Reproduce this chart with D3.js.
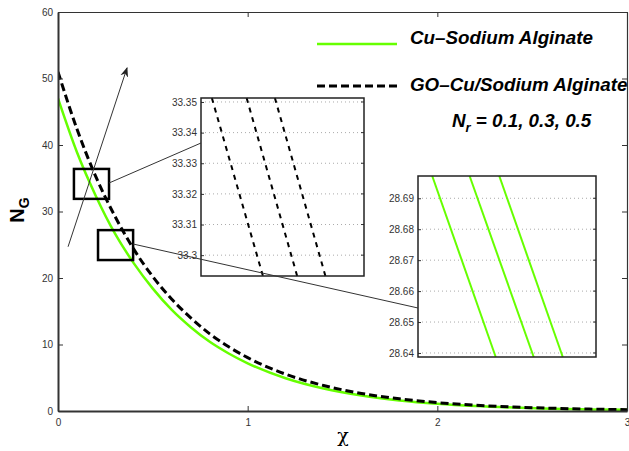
<!DOCTYPE html>
<html>
<head>
<meta charset="utf-8">
<title>N_G vs chi</title>
<script src="https://d3js.org/d3.v7.min.js"></script>
<style>
    body { margin: 0; background: #fff; font-family: "Liberation Sans", Arial, sans-serif; }
    svg text { font-family: "Liberation Sans", Arial, sans-serif; }
    .tick text { fill: #333; font-size: 10px; }
    .legend { font-weight: bold; font-style: italic; font-size: 18.8px; fill: #000; }
</style>
</head>
<body>
<svg id="chart" width="629" height="451"></svg>
<script>
// main curves
const chi = [0, 0.1, 0.2, 0.3, 0.4, 0.5, 0.6, 0.7, 0.8, 0.9, 1.0, 1.2, 1.4, 1.6, 1.8, 2.0, 2.2, 2.4, 2.6, 2.8, 3.0];
const cuNG = [47.0, 38.9, 32.3, 26.7, 22.2, 18.4, 15.2, 12.6, 10.4, 8.65, 7.17, 4.92, 3.38, 2.32, 1.59, 1.09, 0.75, 0.52, 0.35, 0.24, 0.17];
const goNG = [51.0, 42.4, 35.2, 29.3, 24.3, 20.2, 16.8, 14.0, 11.6, 9.65, 8.02, 5.54, 3.83, 2.64, 1.83, 1.26, 0.87, 0.60, 0.42, 0.29, 0.20];

const xTicks = [0, 1, 2, 3];
const yTicks = [0, 10, 20, 30, 40, 50, 60];

// inset 1 : GO-Cu/Sodium Alginate, Nr = 0.1, 0.3, 0.5
const in1Chi = [0.2230, 0.2260];
const in1NG = [33.2932, 33.3513];
const in1Ticks = [33.30, 33.31, 33.32, 33.33, 33.34, 33.35];
const in1TickLabels = ["33.3", "33.31", "33.32", "33.33", "33.34", "33.35"];
const goTopChi = [0.22320, 0.22384, 0.22436];
const goBotChi = [0.22414, 0.22477, 0.22529];

// inset 2 : Cu-Sodium Alginate
const in2Chi = [0.2620, 0.2650];
const in2NG = [28.6387, 28.6972];
const in2Ticks = [28.64, 28.65, 28.66, 28.67, 28.68, 28.69];
const in2TickLabels = ["28.64", "28.65", "28.66", "28.67", "28.68", "28.69"];
const cuTopChi = [0.26224, 0.26287, 0.26337];
const cuBotChi = [0.26331, 0.26395, 0.26444];

// zoom boxes and arrow in data units
const box1 = {x0: 0.084, x1: 0.269, y0: 31.9, y1: 36.4};
const box2 = {x0: 0.211, x1: 0.396, y0: 22.7, y1: 27.2};
const arrowPts = [[0.053, 24.7], [0.364, 51.6]];

const green = "#66ff00";
const svg = d3.select("#chart");

const x = d3.scaleLinear().domain([0, 3]).range([58, 627]);
const y = d3.scaleLinear().domain([0, 60]).range([411, 12]);

svg.append("defs").append("clipPath").attr("id", "clipMain")
    .append("rect").attr("x", 58).attr("y", 12).attr("width", 569).attr("height", 399);

// main curves
const line = d3.line().x(d => x(d[0])).y(d => y(d[1])).curve(d3.curveMonotoneX);
svg.append("path").datum(chi.map((c, i) => [c, cuNG[i]]))
    .attr("d", line).attr("fill", "none").attr("stroke", green).attr("stroke-width", 2.5)
    .attr("clip-path", "url(#clipMain)");
svg.append("path").datum(chi.map((c, i) => [c, goNG[i]]))
    .attr("d", line).attr("fill", "none").attr("stroke", "#000").attr("stroke-width", 3)
    .attr("stroke-dasharray", "8,4").attr("clip-path", "url(#clipMain)");

// axes
const axB = svg.append("g").attr("transform", "translate(0,411)")
    .call(d3.axisBottom(x).tickValues(xTicks).tickSize(-5).tickSizeOuter(0).tickPadding(8).tickFormat(d3.format("d")));
const axL = svg.append("g").attr("transform", "translate(58,0)")
    .call(d3.axisLeft(y).tickValues(yTicks).tickSize(-5).tickSizeOuter(0).tickPadding(5));
const axT = svg.append("g").attr("transform", "translate(0,12)")
    .call(d3.axisTop(x).tickValues(xTicks).tickSize(-5).tickSizeOuter(0).tickFormat(""));
const axR = svg.append("g").attr("transform", "translate(627,0)")
    .call(d3.axisRight(y).tickValues(yTicks).tickSize(-5).tickSizeOuter(0).tickFormat(""));
[axB, axL].forEach(a => { a.select(".domain").attr("stroke", "#333").attr("stroke-width", 2); a.selectAll(".tick line").attr("stroke", "#333"); });
[axT, axR].forEach(a => { a.select(".domain").attr("stroke", "#333").attr("stroke-width", 1.2); a.selectAll(".tick line").attr("stroke", "#333"); });

// axis titles
svg.append("text").attr("x", 343).attr("y", 442).attr("text-anchor", "middle")
    .attr("font-size", 19).style("font-family", "'DejaVu Serif', serif").text("χ");
const ng = svg.append("text").attr("transform", "translate(24,210) rotate(-90)")
    .attr("text-anchor", "middle").attr("font-size", 20).attr("font-weight", "bold");
ng.append("tspan").text("N");
ng.append("tspan").attr("font-size", 14).attr("dy", 5).text("G");

// zoom boxes
[box1, box2].forEach(b => {
    svg.append("rect").attr("x", x(b.x0)).attr("y", y(b.y1))
        .attr("width", x(b.x1) - x(b.x0)).attr("height", y(b.y0) - y(b.y1))
        .attr("fill", "none").attr("stroke", "#000").attr("stroke-width", 2.5);
});

// arrow
svg.select("defs").append("marker").attr("id", "arr").attr("viewBox", "0 0 10 10")
    .attr("refX", 9).attr("refY", 5).attr("markerWidth", 10).attr("markerHeight", 10)
    .attr("markerUnits", "userSpaceOnUse").attr("orient", "auto")
    .append("path").attr("d", "M0,1 L10,5 L0,9 L3,5 Z").attr("fill", "#222");
svg.append("line").attr("x1", x(arrowPts[0][0])).attr("y1", y(arrowPts[0][1]))
    .attr("x2", x(arrowPts[1][0])).attr("y2", y(arrowPts[1][1]))
    .attr("stroke", "#333").attr("stroke-width", 1).attr("marker-end", "url(#arr)");

// insets
function inset(left, top, w, h, xd, yd, ticks, labels, tops, bots, stroke, dash) {
    const ix = d3.scaleLinear().domain(xd).range([left, left + w]);
    const iy = d3.scaleLinear().domain(yd).range([top + h, top]);
    const g = svg.append("g");
    g.append("rect").attr("x", left).attr("y", top).attr("width", w).attr("height", h).attr("fill", "#fff");
    g.selectAll(".grid").data(ticks).enter().append("line")
        .attr("x1", left).attr("x2", left + w).attr("y1", d => iy(d)).attr("y2", d => iy(d))
        .attr("stroke", "#aaa").attr("stroke-width", 1).attr("stroke-dasharray", "1,3");
    const ax = g.append("g").attr("transform", `translate(${left},0)`)
        .call(d3.axisLeft(iy).tickValues(ticks).tickSize(-3).tickSizeOuter(0).tickPadding(4)
            .tickFormat((d, i) => labels[i]));
    ax.select(".domain").remove();
    ax.selectAll(".tick line").attr("stroke", "#333");
    g.selectAll(".rt").data(ticks).enter().append("line")
        .attr("x1", left + w - 3).attr("x2", left + w).attr("y1", d => iy(d)).attr("y2", d => iy(d))
        .attr("stroke", "#333");
    const lg = d3.line().x(d => ix(d[0])).y(d => iy(d[1]));
    tops.forEach((t, i) => {
        g.append("path").datum([[t, yd[1]], [bots[i], yd[0]]]).attr("d", lg)
            .attr("fill", "none").attr("stroke", stroke).attr("stroke-width", 2)
            .attr("stroke-dasharray", dash);
    });
    g.append("rect").attr("x", left).attr("y", top).attr("width", w).attr("height", h)
        .attr("fill", "none").attr("stroke", "#222").attr("stroke-width", 1.5);
}
inset(201, 98, 163, 178, in1Chi, in1NG, in1Ticks, in1TickLabels, goTopChi, goBotChi, "#000", "5,5");
inset(418, 176, 178, 181, in2Chi, in2NG, in2Ticks, in2TickLabels, cuTopChi, cuBotChi, green, null);

// connector lines
svg.append("line").attr("x1", x(box1.x1)).attr("y1", 183).attr("x2", 201).attr("y2", 143)
    .attr("stroke", "#333").attr("stroke-width", 1);
svg.append("line").attr("x1", x(box2.x1)).attr("y1", 244).attr("x2", 418).attr("y2", 308)
    .attr("stroke", "#333").attr("stroke-width", 1);

// legend
svg.append("line").attr("x1", 317).attr("x2", 397).attr("y1", 44).attr("y2", 44)
    .attr("stroke", green).attr("stroke-width", 2.5);
svg.append("text").attr("class", "legend").attr("x", 410).attr("y", 44).text("Cu–Sodium Alginate");
svg.append("line").attr("x1", 317).attr("x2", 397).attr("y1", 86).attr("y2", 86)
    .attr("stroke", "#000").attr("stroke-width", 3).attr("stroke-dasharray", "8,4");
svg.append("text").attr("class", "legend").attr("x", 410).attr("y", 91).text("GO–Cu/Sodium Alginate");
const nr = svg.append("text").attr("class", "legend").attr("x", 452).attr("y", 127);
nr.append("tspan").text("N");
nr.append("tspan").attr("font-size", 13).attr("dy", 5).text("r");
nr.append("tspan").attr("dy", -5).text(" = 0.1, 0.3, 0.5");
</script>
</body>
</html>
